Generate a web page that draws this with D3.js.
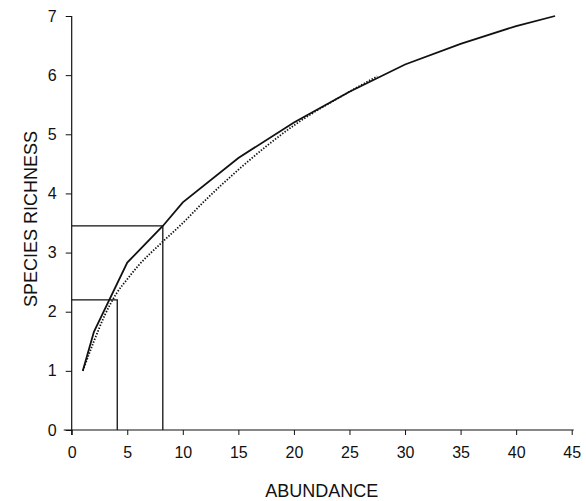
<!DOCTYPE html>
<html>
<head>
<meta charset="utf-8">
<script src="https://cdn.jsdelivr.net/npm/d3@7"></script>
<style>
  body { margin: 0; background: #fff; }
  text { font-family: "Liberation Sans", Arial, sans-serif; fill: #111; }
</style>
</head>
<body>
<div id="chart"></div>
<script>
// Data
const observedX = [1, 2, 5, 8.2, 10, 15, 20, 25, 30, 35, 40, 43.5]
const observedY = [1.0, 1.66, 2.83, 3.45, 3.85, 4.6, 5.2, 5.72, 6.18, 6.53, 6.83, 7.0]
const rarefiedX = [1, 2, 3, 4, 5, 6, 8, 10, 12, 15, 20, 25, 27.5]
const rarefiedY = [1.0, 1.5, 1.95, 2.3, 2.55, 2.78, 3.15, 3.5, 3.88, 4.4, 5.15, 5.72, 5.98]
const guideX = [4.1, 8.2]
const guideY = [2.2, 3.45]
const xTicks = [0, 5, 10, 15, 20, 25, 30, 35, 40, 45]
const yTicks = [0, 1, 2, 3, 4, 5, 6, 7]

// Canvas
const width = 586, height = 501
const plotLeft = 71.7, plotRight = 571.7, plotTop = 16, plotBottom = 430

const svg = d3.select("#chart").append("svg")
    .attr("width", width)
    .attr("height", height)

const x = d3.scaleLinear().domain([0, 45]).range([plotLeft, plotRight])
const y = d3.scaleLinear().domain([0, 7]).range([plotBottom, plotTop])

// Axes
const xAxis = svg.append("g")
    .attr("transform", `translate(0,${plotBottom})`)
    .call(d3.axisBottom(x).tickValues(xTicks).tickFormat(d3.format("d"))
        .tickSize(5).tickSizeOuter(0).tickPadding(12))
xAxis.select(".domain").attr("d", `M${plotLeft - 8},0H${plotRight + 2}`)
xAxis.selectAll("line").attr("stroke", "#111")
xAxis.selectAll("text").style("font-size", "16px")

const yAxis = svg.append("g")
    .attr("transform", `translate(${plotLeft},0)`)
    .call(d3.axisLeft(y).tickValues(yTicks).tickFormat(d3.format("d"))
        .tickSize(6).tickSizeOuter(0).tickPadding(9))
yAxis.select(".domain").attr("d", `M0,${plotBottom + 5}V${plotTop}`)
yAxis.selectAll("line").attr("stroke", "#111")
yAxis.selectAll("text").style("font-size", "16px")
svg.selectAll(".domain").attr("stroke", "#111").attr("stroke-width", 1.2)

// Axis titles
svg.append("text")
    .attr("x", (plotLeft + plotRight) / 2)
    .attr("y", 497)
    .attr("text-anchor", "middle")
    .style("font-size", "18px")
    .text("ABUNDANCE")

svg.append("text")
    .attr("transform", "translate(37,219) rotate(-90)")
    .attr("text-anchor", "middle")
    .style("font-size", "18px")
    .text("SPECIES RICHNESS")

// Guide boxes
guideX.forEach((gx, i) => {
    svg.append("path")
        .attr("d", `M${x(0)},${y(guideY[i])}H${x(gx)}V${y(0)}`)
        .attr("fill", "none")
        .attr("stroke", "#111")
        .attr("stroke-width", 1.3)
})

// Curves
const observed = observedX.map((d, i) => [d, observedY[i]])
const rarefied = rarefiedX.map((d, i) => [d, rarefiedY[i]])

svg.append("path")
    .datum(rarefied)
    .attr("d", d3.line().x(d => x(d[0])).y(d => y(d[1])).curve(d3.curveMonotoneX))
    .attr("fill", "none")
    .attr("stroke", "#111")
    .attr("stroke-width", 1.8)
    .attr("stroke-dasharray", "1.4,1.6")

svg.append("path")
    .datum(observed)
    .attr("d", d3.line().x(d => x(d[0])).y(d => y(d[1])))
    .attr("fill", "none")
    .attr("stroke", "#111")
    .attr("stroke-width", 1.8)
</script>
</body>
</html>
